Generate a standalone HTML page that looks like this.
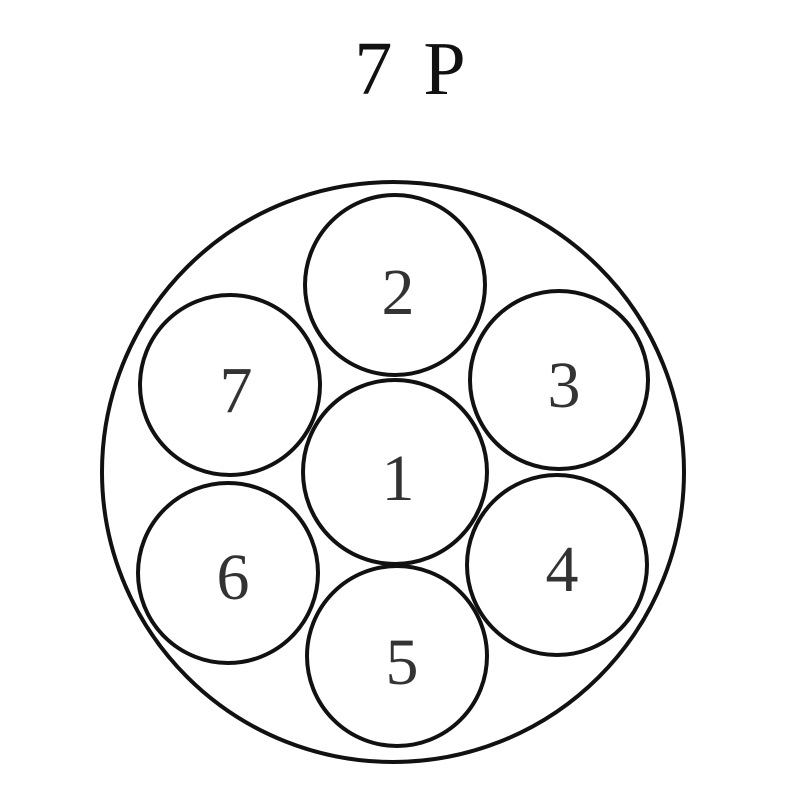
<!DOCTYPE html>
<html><head><style>body{margin:0;background:#fff}</style></head><body>
<svg width="800" height="800" viewBox="0 0 800 800" xmlns="http://www.w3.org/2000/svg">
<rect width="800" height="800" fill="#fff"/>
<text x="413" y="94" font-family="Liberation Serif, serif" font-size="76" text-anchor="middle" fill="#111" letter-spacing="6">7 P</text>
<g fill="none" stroke="#111" stroke-width="4">
<ellipse cx="393" cy="472" rx="291" ry="290"/>
<circle cx="395" cy="285" r="90"/>
<circle cx="230" cy="385" r="90"/>
<circle cx="559" cy="380" r="89"/>
<circle cx="395" cy="472" r="92"/>
<circle cx="228" cy="573" r="90"/>
<circle cx="557" cy="565" r="90"/>
<circle cx="397" cy="656" r="90"/>
</g>
<g font-family="Liberation Serif, serif" font-size="66" text-anchor="middle" fill="#333">
<text x="398" y="314">2</text>
<text x="236" y="412">7</text>
<text x="564" y="407">3</text>
<text x="398" y="500">1</text>
<text x="233" y="599">6</text>
<text x="562" y="591">4</text>
<text x="402" y="684">5</text>
</g>
</svg>
</body></html>
